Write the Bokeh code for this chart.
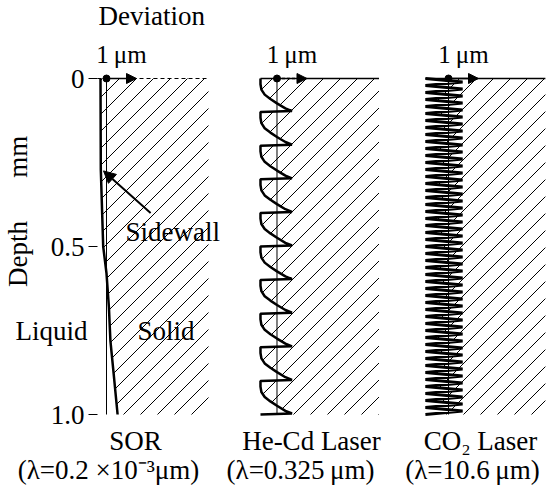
import numpy as np
from bokeh.plotting import figure
from bokeh.models import Range1d, FixedTicker, Label, Arrow, NormalHead
from bokeh.embed import file_html
from bokeh.resources import INLINE

# ---------------- data ----------------
depth_ticks = [0.0, 0.5, 1.0]
depth_tick_labels = ["0", "0.5", "1.0"]

panel_names = ["SOR", "He-Cd Laser", "CO\u2082 Laser"]
panel_wavelengths = ["(\u03bb=0.2 \u00d710\u207b\u00b3\u03bcm)", "(\u03bb=0.325\u2009\u03bcm)", "(\u03bb=10.6\u2009\u03bcm)"]
scale_bar_um = 1.0

# SOR: sidewall deviation (um) vs depth (mm)
sor_depth = [0.0, 0.27, 0.50, 0.58, 0.68, 0.78, 0.88, 1.0]
sor_dev = [-0.20, -0.19, -0.11, 0.0, 0.08, 0.13, 0.24, 0.37]

# He-Cd laser: one ripple period (fraction of period, deviation um)
hecd_frac = [0.0, 0.17, 0.33, 0.48, 0.61, 0.74, 0.89, 0.97]
hecd_dev = [-0.55, -0.55, -0.52, -0.41, -0.22, 0.0, 0.28, 0.50]
hecd_periods = 10

# CO2 laser: one zigzag period (fraction of period, deviation um)
co2_frac = [0.0, 0.5]
co2_dev = [-0.77, 0.47]
co2_periods = 48

total_depth_mm = 1.0
solid_extent_um = [3.4, 3.4, 3.23]

# ---------------- layout constants ----------------
PX_PER_UM = 30.0
PX_PER_MM = 336.0
W, H = 554, 493
Y0_PX = 78
X0 = -106 / PX_PER_UM                 # data x at the left canvas edge
panel_offset = [0.0, 5.683, 11.4]     # x (um units) of each panel's reference line
AXIS_X = -0.3
FONT = "Liberation Serif"
FS = "27px"
DY = 9 / PX_PER_MM                    # baseline correction for labels
HATCH_SPACING_PX = 17
HATCH_PHASE_PX = 10


def tile(frac, dev, n):
    per = total_depth_mm / n
    d, x = [], []
    for k in range(n):
        for f, v in zip(frac, dev):
            d.append(k * per + f * per)
            x.append(v)
    d.append(total_depth_mm)
    x.append(dev[0])
    return d, x


def hatch_segments(xs, ys):
    """45-degree '/' hatch lines clipped to polygon (data coords in, data coords out)."""
    px = (np.asarray(xs) - X0) * PX_PER_UM
    py = Y0_PX + np.asarray(ys) * PX_PER_MM
    s = px + py
    n = len(px)
    out_x, out_y = [], []
    c = HATCH_PHASE_PX
    while c < s.max():
        if c > s.min():
            pts = []
            for i in range(n):
                j = (i + 1) % n
                f1, f2 = s[i] - c, s[j] - c
                if (f1 < 0 <= f2) or (f2 < 0 <= f1):
                    t = f1 / (f1 - f2)
                    pts.append((px[i] + t * (px[j] - px[i]), py[i] + t * (py[j] - py[i])))
            pts.sort()
            for a, b in zip(pts[0::2], pts[1::2]):
                out_x.append([a[0] / PX_PER_UM + X0, b[0] / PX_PER_UM + X0])
                out_y.append([(a[1] - Y0_PX) / PX_PER_MM, (b[1] - Y0_PX) / PX_PER_MM])
        c += HATCH_SPACING_PX
    return out_x, out_y


hecd_depth, hecd_x = tile(hecd_frac, hecd_dev, hecd_periods)
co2_depth, co2_x = tile(co2_frac, co2_dev, co2_periods)

profiles = [(sor_depth, sor_dev), (hecd_depth, hecd_x), (co2_depth, co2_x)]

p = figure(width=W, height=H,
           x_range=Range1d(X0, X0 + W / PX_PER_UM),
           y_range=Range1d((H - Y0_PX) / PX_PER_MM, -Y0_PX / PX_PER_MM),
           output_backend="svg", toolbar_location=None,
           x_axis_location=None, y_axis_location="left",
           min_border_left=0, min_border_right=0, min_border_top=0, min_border_bottom=0,
           outline_line_color=None, background_fill_color="white", border_fill_color="white")
p.grid.visible = False

ax = p.yaxis[0]
ax.fixed_location = AXIS_X
ax.ticker = FixedTicker(ticks=depth_ticks)
ax.major_label_overrides = {t: l for t, l in zip(depth_ticks, depth_tick_labels)}
ax.axis_line_color = None
ax.minor_tick_line_color = None
ax.major_tick_in = 0
ax.major_tick_out = 9
ax.major_tick_line_color = "black"
ax.major_label_standoff = 4
ax.major_label_text_font = FONT
ax.major_label_text_font_size = FS
ax.major_label_text_color = "black"

# hatched solid regions
for (d, x), off, ext in zip(profiles, panel_offset, solid_extent_um):
    xs = [off + v for v in x] + [off + ext, off + ext]
    ys = list(d) + [d[-1], 0.0]
    hx, hy = hatch_segments(xs, ys)
    p.multi_line(hx, hy, line_color="black", line_width=1)

# reference (zero-deviation) lines
p.segment(x0=panel_offset, y0=[0.0] * 3, x1=panel_offset, y1=[total_depth_mm] * 3,
          line_color="black", line_width=1)

# top surface lines
p.line([AXIS_X, panel_offset[0] + solid_extent_um[0]], [0, 0], line_color="black", line_width=1.2, line_dash="4 3")
p.line([panel_offset[1] + min(hecd_dev), panel_offset[1] + solid_extent_um[1]], [0, 0], line_color="black", line_width=1.5)
p.line([panel_offset[2] + min(co2_dev), panel_offset[2] + solid_extent_um[2]], [0, 0], line_color="black", line_width=1.5)

# profiles
p.line([panel_offset[0] + v for v in sor_dev], sor_depth, line_color="black", line_width=2.5)
p.line([panel_offset[1] + v for v in hecd_x], hecd_depth, line_color="black", line_width=2.5)
p.line([panel_offset[2] + v for v in co2_x], co2_depth, line_color="black", line_width=3)


def lab(x, y, text, align="left", size=FS, angle=0.0, baseline="alphabetic"):
    p.add_layout(Label(x=x, y=y, text=text, text_align=align, text_baseline=baseline,
                       text_font=FONT, text_font_size=size, angle=angle, text_color="black"))


# 1 um scale arrows
for i, off in enumerate(panel_offset):
    p.add_layout(Arrow(end=NormalHead(size=10, fill_color="black", line_color="black"),
                       x_start=off, y_start=0, x_end=off + scale_bar_um, y_end=0,
                       line_color="black", line_width=1.5,
                       line_dash="3 2" if i == 1 else "solid"))
    lab(off + scale_bar_um / 2, -0.045 - DY, "1\u2009\u03bcm", align="center", size="25px")
p.scatter(x=panel_offset, y=[0, 0, 0], size=7, color="black")

# sidewall pointer
p.add_layout(Arrow(end=NormalHead(size=12, fill_color="black", line_color="black"),
                   x_start=1.47, y_start=0.40, x_end=-0.1, y_end=0.275,
                   line_color="black", line_width=2))

lab(-0.267, -0.158 - DY, "Deviation")
lab(0.633, 0.485 - DY, "Sidewall")
lab(-3.033, 0.777 - DY, "Liquid")
lab(1.033, 0.777 - DY, "Solid")
lab(-2.95, 0.522, "Depth", align="center", angle=np.pi / 2, baseline="middle")
lab(-2.95, 0.233, "mm", align="center", angle=np.pi / 2, baseline="middle")

name_x = [0.967, 6.833, 12.467]
wl_x = [0.067, 6.467, 12.2]
for nx, wx, n, wl in zip(name_x, wl_x, panel_names, panel_wavelengths):
    lab(nx, 1.107 - DY, n, align="center")
    lab(wx, 1.193 - DY, wl, align="center")

open("out.html", "w").write(file_html(p, INLINE))
